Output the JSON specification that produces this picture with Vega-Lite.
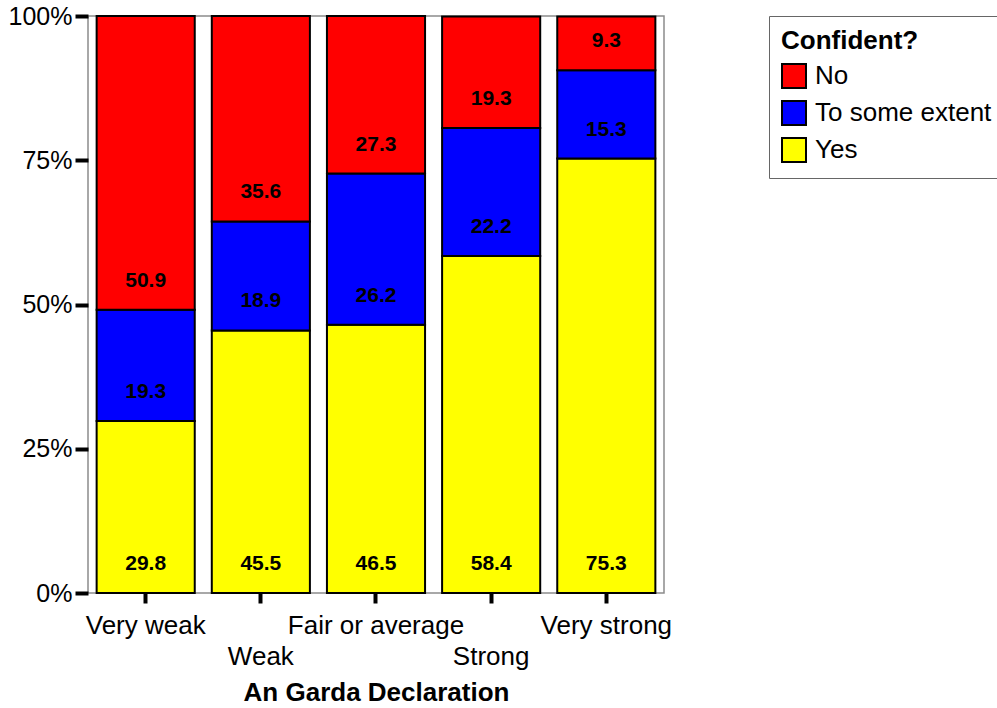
{
  "$schema": "https://vega.github.io/schema/vega-lite/v6.json",
  "width": 576,
  "height": 577,
  "autosize": {"type": "none"},
  "padding": {"left": 88, "top": 16, "right": 333, "bottom": 115},
  "background": "white",
  "config": {
    "font": "Liberation Sans",
    "view": {"stroke": "#8c8c8c", "strokeWidth": 1.5}
  },
  "data": {
    "values": [
      {"cat": "Very weak", "conf": "Yes", "pct": 29.8},
      {"cat": "Very weak", "conf": "To some extent", "pct": 19.3},
      {"cat": "Very weak", "conf": "No", "pct": 50.9},
      {"cat": "Weak", "conf": "Yes", "pct": 45.5},
      {"cat": "Weak", "conf": "To some extent", "pct": 18.9},
      {"cat": "Weak", "conf": "No", "pct": 35.6},
      {"cat": "Fair or average", "conf": "Yes", "pct": 46.5},
      {"cat": "Fair or average", "conf": "To some extent", "pct": 26.2},
      {"cat": "Fair or average", "conf": "No", "pct": 27.3},
      {"cat": "Strong", "conf": "Yes", "pct": 58.4},
      {"cat": "Strong", "conf": "To some extent", "pct": 22.2},
      {"cat": "Strong", "conf": "No", "pct": 19.3},
      {"cat": "Very strong", "conf": "Yes", "pct": 75.3},
      {"cat": "Very strong", "conf": "To some extent", "pct": 15.3},
      {"cat": "Very strong", "conf": "No", "pct": 9.3}
    ]
  },
  "transform": [
    {"stack": "pct", "groupby": ["cat"], "sort": [{"field": "conf", "order": "descending"}], "as": ["y0", "y1"]}
  ],
  "encoding": {
    "x": {
      "field": "cat",
      "type": "nominal",
      "sort": ["Very weak", "Weak", "Fair or average", "Strong", "Very strong"],
      "scale": {"paddingInner": 0.148, "paddingOuter": 0.075},
      "axis": {
        "title": "An Garda Declaration",
        "titleFontSize": 26,
        "titleFontWeight": "bold",
        "titleColor": "black",
        "titlePadding": 10,
        "labelAngle": 0,
        "labelFontSize": 26,
        "labelColor": "black",
        "labelPadding": {"condition": {"test": "datum.value === 'Weak' || datum.value === 'Strong'", "value": 40}, "value": 9},
        "labelOverlap": false,
        "labelLimit": 0,
        "domain": false,
        "tickColor": "black",
        "tickWidth": 4,
        "tickSize": 10
      }
    }
  },
  "layer": [
    {
      "mark": {"type": "bar", "stroke": "black", "strokeWidth": 2},
      "encoding": {
        "y": {
          "field": "y0",
          "type": "quantitative",
          "scale": {"domain": [0, 100], "nice": false},
          "axis": {
            "title": null,
            "values": [0, 25, 50, 75, 100],
            "labelExpr": "datum.value + '%'",
            "labelFontSize": 25,
            "labelColor": "black",
            "labelPadding": 3,
            "domain": false,
            "grid": false,
            "tickColor": "black",
            "tickWidth": 4,
            "tickSize": 13
          }
        },
        "y2": {"field": "y1"},
        "color": {
          "field": "conf",
          "type": "nominal",
          "scale": {"domain": ["No", "To some extent", "Yes"], "range": ["#ff0000", "#0000ff", "#ffff00"]},
          "legend": {
            "title": "Confident?",
            "orient": "none",
            "legendX": 681,
            "legendY": 0,
            "titleFontSize": 26,
            "titleFontWeight": "bold",
            "titleColor": "black",
            "titlePadding": 9,
            "labelFontSize": 26,
            "labelColor": "black",
            "labelOffset": 8,
            "labelLimit": 0,
            "symbolType": "square",
            "symbolSize": 576,
            "symbolStrokeColor": "black",
            "symbolStrokeWidth": 2,
            "symbolOpacity": 1,
            "rowPadding": 5,
            "padding": 12,
            "strokeColor": "#666666",
            "fillColor": "white"
          }
        }
      }
    },
    {
      "mark": {"type": "text", "fontWeight": "bold", "fontSize": 21, "dy": -29, "color": "black"},
      "encoding": {
        "y": {"field": "y0", "type": "quantitative"},
        "text": {"field": "pct", "type": "quantitative", "format": ".1f"}
      }
    }
  ]
}
